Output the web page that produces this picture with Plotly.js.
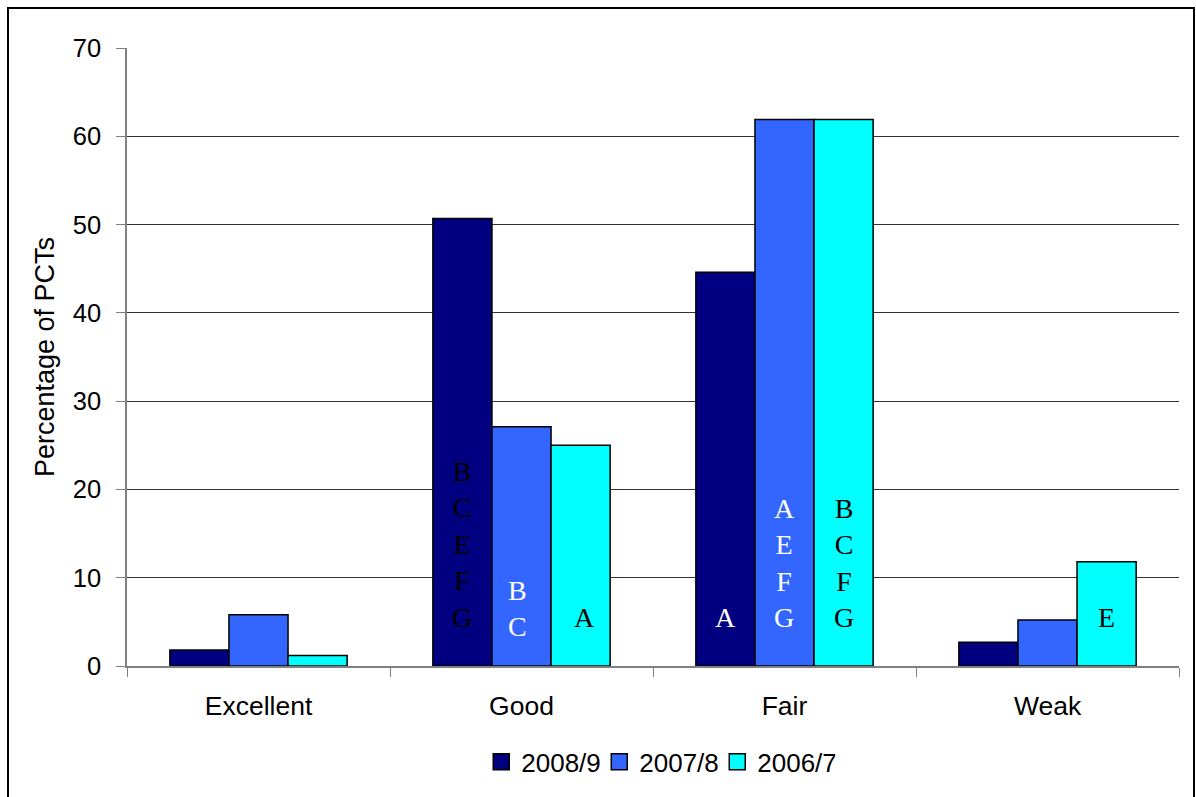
<!DOCTYPE html>
<html>
<head>
<meta charset="utf-8">
<script src="https://cdn.plot.ly/plotly-3.0.1.min.js"></script>
<style>
html,body{margin:0;padding:0;background:#fff;}
#chart{width:1196px;height:797px;}
</style>
</head>
<body>
<div id="chart"></div>
<script>
// ---- data ----
const categories = ["Excellent", "Good", "Fair", "Weak"];
const seriesNames = ["2008/9", "2007/8", "2006/7"];
const values2008 = [1.8, 50.7, 44.6, 2.7];
const values2007 = [5.8, 27.1, 61.9, 5.2];
const values2006 = [1.2, 25.0, 61.9, 11.8];
const labels2008 = ["", "B<br>C<br>E<br>F<br>G", "A", ""];
const labels2007 = ["", "B<br>C", "A<br>E<br>F<br>G", ""];
const labels2006 = ["", "A", "B<br>C<br>F<br>G", "E"];

// ---- styles ----
const colors = ["#000080", "#3366FF", "#00FFFF"];
const labelColors2008 = ["#000", "#000", "#fff", "#000"];
const labelColors2007 = ["#fff", "#fff", "#fff", "#fff"];
const labelColors2006 = ["#000", "#000", "#000", "#000"];
const bargap = 0.326;

const allValues = [values2008, values2007, values2006];
const allLabels = [labels2008, labels2007, labels2006];
const allLabelColors = [labelColors2008, labelColors2007, labelColors2006];

const traces = seriesNames.map((name, j) => ({
  type: "bar",
  name: name,
  x: categories,
  y: allValues[j],
  showlegend: false,
  legendgroup: name,
  marker: {color: colors[j], line: {color: "#000", width: 1.5}},
  hoverinfo: "x+y+name"
}));
// legend entries with square swatches
seriesNames.forEach((name, j) => {
  traces.push({
    type: "scatter", mode: "markers", name: name, legendgroup: name,
    x: [null], y: [null], showlegend: true, hoverinfo: "skip",
    marker: {symbol: "square", size: 16, color: colors[j], line: {color: "#000", width: 1.5}}
  });
});

const barW = (1 - bargap) / 3;
const annotations = [];
allLabels.forEach((labs, j) => {
  labs.forEach((t, i) => {
    if (!t) return;
    const lift = (j === 1 && i === 1) ? 22 : 31;
    const nudge = (i === 1) ? (j === 1 ? -4 : (j === 2 ? 4 : 0)) : 0;
    annotations.push({
      xref: "x", yref: "y",
      x: i + (j - 1) * barW,
      y: 0,
      yanchor: "bottom",
      xanchor: "center",
      yshift: lift,
      xshift: nudge,
      showarrow: false,
      text: t,
      align: "center",
      font: {family: "Liberation Serif, Times New Roman, serif", size: 28, color: allLabelColors[j][i]}
    });
  });
});

const L = 127, R = 17, T = 48, B = 131;
const pw = 1196 - L - R, ph = 797 - T - B;
const shapes = [{
  type: "rect", xref: "paper", yref: "paper",
  x0: (8 - L) / pw, x1: (1194 - L) / pw,
  y0: (666 - 800) / ph, y1: (666 - 8) / ph,
  line: {color: "#000", width: 2}, fillcolor: "rgba(0,0,0,0)", layer: "below"
}];

const layout = {
  width: 1196, height: 797,
  margin: {l: L, r: R, t: T, b: B},
  paper_bgcolor: "#fff", plot_bgcolor: "#fff",
  barmode: "group", bargap: bargap, bargroupgap: 0,
  font: {family: "Liberation Sans, Arial, sans-serif", size: 26, color: "#000"},
  showlegend: true,
  legend: {orientation: "h", x: 0.505, xanchor: "center", y: -0.155, yanchor: "middle",
           font: {size: 26}, itemwidth: 30, traceorder: "normal", itemsizing: "trace",
           entrywidth: 73, entrywidthmode: "pixels"},
  xaxis: {
    type: "category", tickson: "boundaries", ticks: "outside", ticklen: 9, tickcolor: "#808080",
    showline: true, linecolor: "#808080", linewidth: 1.5, showgrid: false,
    ticklabelstandoff: 15, tickfont: {size: 26.5}, zeroline: false, fixedrange: true
  },
  yaxis: {
    range: [0, 70], dtick: 10, tick0: 0, ticks: "outside", ticklen: 9, tickcolor: "#808080",
    showline: true, linecolor: "#808080", linewidth: 1.5,
    showgrid: true, gridcolor: "#333", gridwidth: 1, zeroline: false,
    ticklabelstandoff: 10, tickfont: {size: 25.5},
    title: {text: "Percentage of PCTs", font: {size: 27}, standoff: 10}
  },
  annotations: annotations,
  shapes: shapes
};

Plotly.newPlot("chart", traces, layout, {displayModeBar: false, responsive: false});
</script>
</body>
</html>
